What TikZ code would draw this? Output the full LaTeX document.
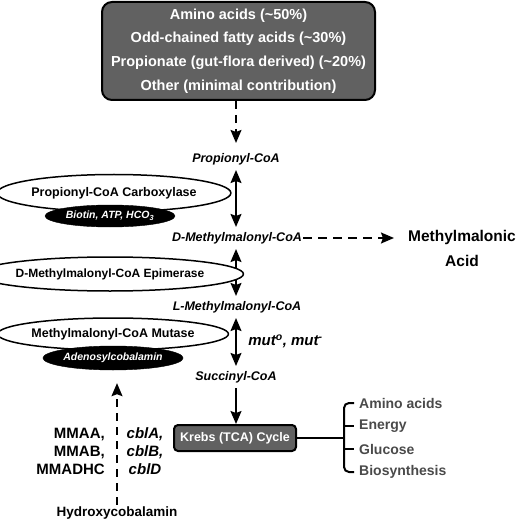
\documentclass[tikz,border=0pt]{standalone}
\usepackage{fontspec}
\setmainfont{Liberation Sans}
\usetikzlibrary{arrows.meta,shapes.geometric,calc}
\definecolor{boxgray}{HTML}{616161}
\definecolor{labgray}{HTML}{4A4A4A}
\begin{document}
\begin{tikzpicture}[x=1pt,y=-1pt,
  tip/.tip={Stealth[length=13pt,width=11pt,inset=2pt]},
  srcbox/.style={draw,line width=2pt,fill=boxgray,rounded corners=10pt,text=white,
    font=\fontsize{14.5}{23.7}\selectfont\bfseries,align=center,
    minimum width=273pt,minimum height=98pt,inner sep=0pt},
  metab/.style={font=\fontsize{12.5}{14}\selectfont\bfseries\itshape,
    text height=9pt,text depth=2.7pt,inner xsep=1pt,inner ysep=5pt},
  enzyme/.style={draw,ellipse,line width=1.5pt,fill=white,inner sep=0pt,
    font=\fontsize{12.5}{14}\selectfont\bfseries},
  cofac/.style={draw,ellipse,fill=black,text=white,inner sep=0pt,
    font=\fontsize{10.5}{12}\selectfont\bfseries\itshape},
  dbl/.style={line width=1.6pt,tip-tip},
  single/.style={line width=1.6pt,-tip},
  dasharrow/.style={line width=1.6pt,-tip,dash pattern=on 8pt off 6pt},
  kbox/.style={draw,line width=2pt,fill=boxgray,rounded corners=4pt,text=white,
    font=\fontsize{12.5}{14}\selectfont\bfseries,minimum width=122pt,minimum height=26pt,inner sep=0pt},
  outlab/.style={anchor=west,text=labgray,font=\fontsize{14}{16}\selectfont\bfseries,inner sep=0pt},
  bigb/.style={font=\fontsize{15}{18}\selectfont\bfseries,inner sep=0pt}
]
\useasboundingbox (0,0) rectangle (520,521);

% source box
\node[srcbox] (src) at (238.5,51) {Amino acids (\textasciitilde50\%)\\Odd-chained fatty acids (\textasciitilde30\%)\\Propionate (gut-flora derived) (\textasciitilde20\%)\\Other (minimal contribution)};

% metabolites
\node[metab] (p1) at (236,159) {Propionyl-CoA};
\node[metab] (p2) at (237,238) {D-Methylmalonyl-CoA};
\node[metab] (p3) at (237,307) {L-Methylmalonyl-CoA};
\node[metab] (p4) at (236,377) {Succinyl-CoA};

\draw[dasharrow,shorten >=5pt] (src.south -| p1.north) -- (p1.north);
\draw[dbl] (p1.south) -- (p1.south |- p2.north);
\draw[dbl] (p2.south -| p1.south) -- (p1.south |- p3.north);
\draw[dbl] (p3.south -| p1.south) -- (p1.south |- p4.north);

% Methylmalonic acid
\node[font=\fontsize{15.5}{25}\selectfont\bfseries,align=center,inner xsep=2pt] (mma) at (462,248) {Methylmalonic\\Acid};
\draw[dasharrow,dash pattern=on 9pt off 6pt,shorten >=12pt] (p2.east) -- (p2.east -| mma.west);

% mut label
\node[font=\fontsize{15}{18}\selectfont\bfseries\itshape,inner sep=0pt] (mut) at (285.5,341) {mut\textsuperscript{o}, mut\textsuperscript{-}};

% enzymes
\node[enzyme,minimum width=198pt,minimum height=37pt] (e1) at (114,193) {Propionyl-CoA Carboxylase};
\node[cofac,minimum width=130pt,minimum height=22pt] (c1) at (110,216) {Biotin, ATP, HCO\textsubscript{3}};
\node[enzyme,minimum width=217pt,minimum height=34pt,font=\fontsize{12}{14}\selectfont\bfseries] (e2) at (110,274) {D-Methylmalonyl-CoA Epimerase};
\node[enzyme,minimum width=200pt,minimum height=32pt] (e3) at (113,334) {Methylmalonyl-CoA Mutase};
\node[cofac,minimum width=130pt,minimum height=24pt] (c3) at (113,358) {Adenosylcobalamin};

% Krebs
\node[kbox] (krebs) at (235,438) {Krebs (TCA) Cycle};
\draw[single] (p4.south) -- (p4.south |- krebs.north);

% outputs
\node[outlab] (o1) at (359,403) {Amino acids};
\node[outlab] (o2) at (359,426) {Energy};
\node[outlab] (o3) at (359,449) {Glucose};
\node[outlab] (o4) at (359,472) {Biosynthesis};
\coordinate (br) at (344,438);
\draw[line width=2pt] (krebs.east) -- (br);
\draw[line width=2pt,rounded corners=5pt] ($(o1.west)+(-5,0)$) -- ($(o1.west)+(-15,0)$) -- ($(o4.west)+(-15,0)$) -- ($(o4.west)+(-5,0)$);
\draw[line width=2pt] ($(o2.west)+(-15,0)$) -- ($(o2.west)+(-5,0)$);
\draw[line width=2pt] ($(o3.west)+(-15,0)$) -- ($(o3.west)+(-5,0)$);

% cobalamin
\node[bigb,anchor=east,align=right] (mmaa) at (105,451) {MMAA,\\MMAB,\\MMADHC};
\node[bigb,font=\fontsize{15}{18}\selectfont\bfseries\itshape,align=center] (cbl) at (145,451) {cblA,\\cblB,\\cblD};
\node[font=\fontsize{13.5}{16}\selectfont\bfseries,inner sep=2pt] (hyd) at (117,513) {Hydroxycobalamin};
\draw[dasharrow,shorten >=13pt] (hyd.north) -- (hyd.north |- c3.south);
\end{tikzpicture}
\end{document}
